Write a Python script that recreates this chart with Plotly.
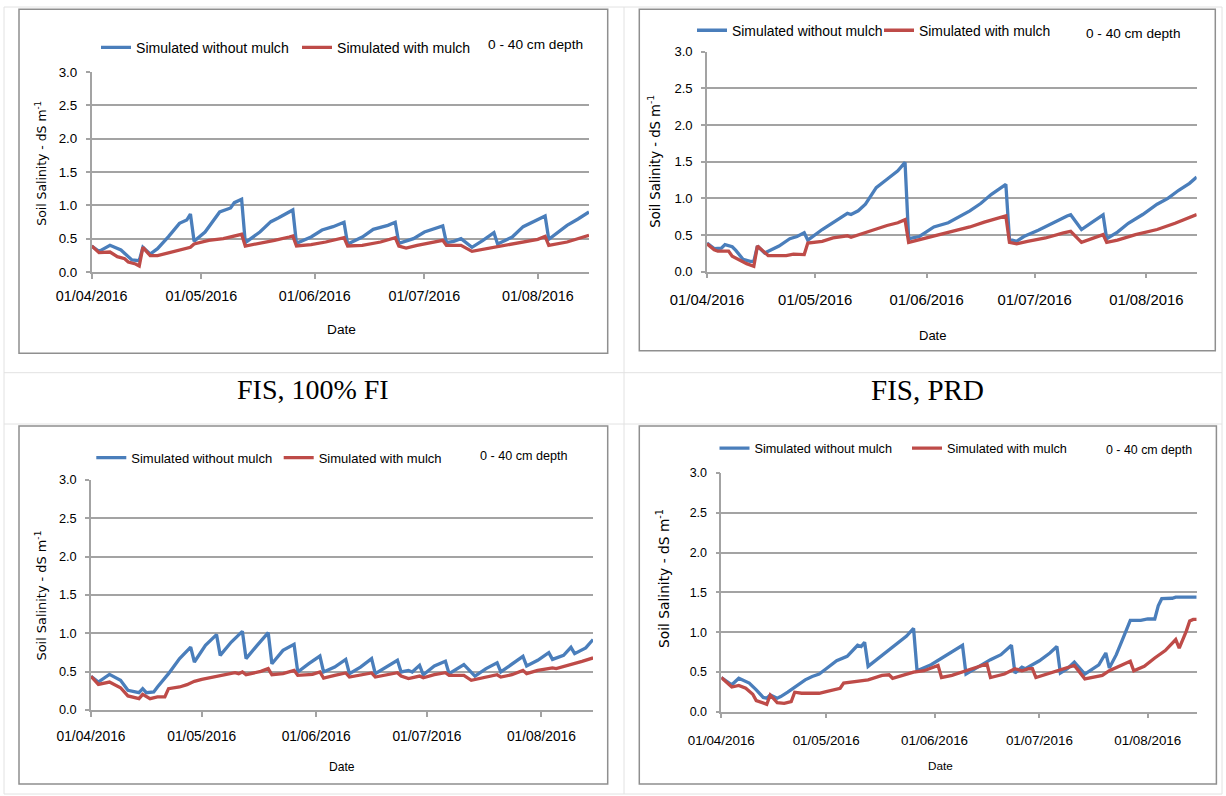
import pandas as pd
import plotly.graph_objects as go

W, H = 1226, 796
START = "2016-04-01"
END = "2016-08-15"
MONTH_TICKS = ["2016-04-01", "2016-05-01", "2016-06-01", "2016-07-01", "2016-08-01"]
MONTH_LABELS = ["01/04/2016", "01/05/2016", "01/06/2016", "01/07/2016", "01/08/2016"]
Y_TICKS = [0.0, 0.5, 1.0, 1.5, 2.0, 2.5, 3.0]
Y_LABELS = ["0.0", "0.5", "1.0", "1.5", "2.0", "2.5", "3.0"]
SERIES_NAMES = ["Simulated without mulch", "Simulated with mulch"]
DEPTH_LABEL = "0 - 40 cm depth"
X_TITLE = "Date"
Y_TITLE = "Soil Salinity - dS m<sup>-1</sup>"
CAPTIONS = ["FIS, 100% FI", "FIS, PRD"]

# ---- data: day offsets from 01/04/2016 and salinity values (dS/m) ----
# top-left panel
tl_nomulch_day = [0, 2, 5, 8, 11, 13, 14, 16, 18, 21, 24, 26, 27, 28, 31, 33, 35, 38, 39, 41, 42, 46, 49, 51, 55, 56, 60,
                  63, 66, 69, 70, 74, 77, 81, 83, 84, 88, 91, 94, 96, 97, 99, 101, 104, 107, 110, 111, 115, 118, 121, 124,
                  125, 130, 133, 136]
tl_nomulch_val = [0.39, 0.31, 0.40, 0.33, 0.18, 0.17, 0.37, 0.27, 0.35, 0.53, 0.73, 0.78, 0.87, 0.46, 0.60, 0.755, 0.90,
                  0.96, 1.04, 1.09, 0.44, 0.60, 0.755, 0.81, 0.93, 0.43, 0.525, 0.63, 0.68, 0.745, 0.42, 0.525, 0.64,
                  0.70, 0.745, 0.43, 0.50, 0.60, 0.65, 0.69, 0.44, 0.46, 0.50, 0.37, 0.475, 0.59, 0.42, 0.525, 0.68,
                  0.755, 0.84, 0.49, 0.70, 0.795, 0.90]
tl_mulch_day = [0, 2, 5, 7, 9, 10, 12, 13, 14, 16, 18, 22, 25, 27, 28, 32, 36, 39, 41, 42, 46, 50, 54, 55, 56, 60, 64, 69,
                70, 74, 79, 83, 84, 86, 89, 95, 96, 97, 101, 104, 108, 112, 118, 122, 124, 125, 130, 136]
tl_mulch_val = [0.39, 0.29, 0.30, 0.23, 0.20, 0.15, 0.12, 0.09, 0.37, 0.245, 0.245, 0.30, 0.34, 0.37, 0.42, 0.475, 0.50,
                0.54, 0.565, 0.39, 0.43, 0.475, 0.525, 0.54, 0.39, 0.41, 0.45, 0.515, 0.39, 0.40, 0.45, 0.515, 0.39,
                0.36, 0.40, 0.46, 0.475, 0.40, 0.40, 0.31, 0.35, 0.39, 0.44, 0.49, 0.535, 0.40, 0.45, 0.55]

# top-right panel
tr_nomulch_day = [0, 2, 4, 5, 7, 8, 10, 12, 13, 14, 16, 20, 23, 25, 27, 28, 32, 35, 39, 40, 42, 44, 46, 47, 50, 53, 55,
                  56, 59, 61, 63, 67, 70, 73, 76, 79, 83, 84, 86, 88, 92, 97, 100, 101, 104, 107, 110, 111, 114, 117,
                  121, 125, 128, 131, 134, 136]
tr_nomulch_val = [0.39, 0.315, 0.32, 0.37, 0.34, 0.29, 0.17, 0.14, 0.14, 0.35, 0.255, 0.35, 0.45, 0.48, 0.53, 0.43,
                  0.575, 0.667, 0.795, 0.78, 0.83, 0.92, 1.08, 1.146, 1.26, 1.375, 1.49, 0.45, 0.48, 0.55, 0.61, 0.667,
                  0.75, 0.83, 0.93, 1.055, 1.19, 0.44, 0.415, 0.48, 0.566, 0.69, 0.76, 0.776, 0.575, 0.676, 0.776, 0.45,
                  0.54, 0.66, 0.78, 0.92, 1.0, 1.11, 1.205, 1.29]
tr_mulch_day = [0, 2, 3, 6, 7, 9, 11, 13, 14, 17, 22, 24, 27, 28, 32, 35, 39, 40, 43, 47, 50, 53, 55, 56, 60, 63, 69, 73,
                77, 83, 84, 86, 89, 94, 99, 101, 104, 107, 110, 111, 114, 119, 125, 130, 136]
tr_mulch_val = [0.38, 0.30, 0.28, 0.28, 0.21, 0.155, 0.11, 0.075, 0.35, 0.22, 0.22, 0.24, 0.233, 0.39, 0.415, 0.46, 0.49,
                0.47, 0.52, 0.585, 0.63, 0.667, 0.71, 0.40, 0.45, 0.49, 0.566, 0.61, 0.676, 0.76, 0.40, 0.38, 0.415,
                0.46, 0.53, 0.55, 0.40, 0.45, 0.505, 0.40, 0.43, 0.505, 0.575, 0.66, 0.78]

# bottom-left panel
bl_nomulch_day = [0, 2, 5, 8, 10, 13, 14, 15, 17, 18, 21, 24, 27, 28, 31, 34, 35, 38, 41, 42, 45, 48, 49, 52, 55, 56, 59,
                  62, 63, 66, 69, 70, 73, 76, 77, 80, 83, 84, 86, 87, 89, 90, 93, 96, 97, 101, 104, 107, 110, 111, 114,
                  117, 118, 121, 124, 125, 128, 130, 131, 134, 136]
bl_nomulch_val = [0.44, 0.365, 0.465, 0.387, 0.257, 0.226, 0.278, 0.226, 0.235, 0.30, 0.474, 0.67, 0.82, 0.626, 0.843,
                  0.983, 0.713, 0.887, 1.026, 0.67, 0.843, 1.01, 0.604, 0.778, 0.857, 0.496, 0.604, 0.704, 0.496, 0.56,
                  0.66, 0.474, 0.56, 0.67, 0.474, 0.56, 0.648, 0.496, 0.517, 0.496, 0.583, 0.46, 0.574, 0.635, 0.474,
                  0.591, 0.443, 0.54, 0.617, 0.496, 0.604, 0.70, 0.574, 0.648, 0.748, 0.66, 0.713, 0.817, 0.735, 0.81,
                  0.92]
bl_mulch_day = [0, 2, 5, 8, 10, 13, 14, 16, 18, 20, 21, 24, 26, 28, 30, 33, 37, 39, 40, 41, 42, 46, 48, 49, 52, 55, 56,
                60, 62, 63, 66, 69, 70, 73, 76, 77, 80, 83, 84, 86, 89, 90, 93, 96, 97, 101, 103, 107, 110, 111, 114,
                117, 118, 121, 125, 126, 130, 133, 136]
bl_mulch_val = [0.44, 0.335, 0.365, 0.29, 0.183, 0.148, 0.204, 0.148, 0.17, 0.17, 0.278, 0.30, 0.33, 0.374, 0.40, 0.43,
                0.465, 0.487, 0.474, 0.496, 0.46, 0.504, 0.54, 0.46, 0.474, 0.517, 0.452, 0.465, 0.496, 0.417, 0.452,
                0.483, 0.43, 0.46, 0.483, 0.43, 0.46, 0.487, 0.443, 0.409, 0.443, 0.42, 0.46, 0.487, 0.452, 0.452,
                0.387, 0.43, 0.46, 0.43, 0.46, 0.517, 0.474, 0.517, 0.548, 0.54, 0.59, 0.635, 0.68]

# bottom-right panel
br_nomulch_day = [0, 3, 5, 8, 10, 12, 13, 14, 16, 17, 19, 21, 24, 26, 28, 30, 33, 36, 38, 39, 40, 41, 42, 45, 48, 51, 53,
                  55, 56, 60, 64, 66, 69, 70, 72, 74, 77, 80, 83, 84, 86, 87, 89, 91, 94, 96, 97, 99, 101, 104, 108,
                  110, 111, 113, 115, 117, 120, 122, 124, 125, 126, 129, 130, 136]
br_nomulch_val = [0.43, 0.338, 0.42, 0.36, 0.274, 0.18, 0.17, 0.21, 0.17, 0.19, 0.245, 0.31, 0.40, 0.443, 0.473, 0.54,
                  0.64, 0.696, 0.78, 0.835, 0.82, 0.873, 0.57, 0.675, 0.78, 0.886, 0.95, 1.046, 0.515, 0.59, 0.696,
                  0.75, 0.835, 0.473, 0.527, 0.57, 0.654, 0.717, 0.835, 0.485, 0.56, 0.54, 0.59, 0.64, 0.738, 0.82,
                  0.485, 0.54, 0.624, 0.473, 0.59, 0.738, 0.55, 0.717, 0.93, 1.148, 1.148, 1.165, 1.165, 1.33, 1.42,
                  1.426, 1.44, 1.44]
br_mulch_day = [0, 3, 5, 7, 9, 10, 13, 14, 16, 18, 20, 21, 23, 28, 30, 34, 35, 38, 42, 46, 48, 49, 51, 55, 58, 62, 63,
                66, 70, 73, 76, 77, 81, 84, 86, 88, 89, 90, 94, 98, 101, 104, 106, 109, 111, 114, 117, 118, 121, 124,
                127, 130, 131, 133, 134, 135, 136]
br_mulch_val = [0.43, 0.31, 0.33, 0.295, 0.22, 0.14, 0.093, 0.21, 0.114, 0.105, 0.127, 0.245, 0.232, 0.232, 0.253,
                0.295, 0.36, 0.38, 0.40, 0.456, 0.464, 0.42, 0.443, 0.498, 0.515, 0.582, 0.43, 0.456, 0.515, 0.557,
                0.60, 0.43, 0.473, 0.54, 0.515, 0.54, 0.54, 0.43, 0.485, 0.54, 0.582, 0.413, 0.43, 0.456, 0.515, 0.57,
                0.633, 0.515, 0.57, 0.675, 0.768, 0.907, 0.80, 1.01, 1.14, 1.16, 1.16]

# ---- styling / geometry (pixels on the 1226x796 page) ----
BLUE = "#4a7ebb"
RED = "#be4b48"
GRID = "#a3a3a3"
NARROW = "Liberation Sans Narrow, Arial Narrow, Liberation Sans, Arial, sans-serif"
SANS = "DejaVu Sans, Verdana, sans-serif"
SERIF = "Liberation Serif, Times New Roman, serif"

PANELS = [
    dict(series=(tl_nomulch_day, tl_nomulch_val, tl_mulch_day, tl_mulch_val),
         plot=(91.7, 589.0, 72.0, 272.0), box=(19, 607.7, 9.3, 353.3),
         leg=(136, 47.7, 201, 14.1), depth=(485.6, 45.0, 13.7), date=(341, 329, 13.7),
         ytitle=(40.7, 163, 12.4), xtick=14.35, ytick=13.4, xstand=5),
    dict(series=(tr_nomulch_day, tr_nomulch_val, tr_mulch_day, tr_mulch_val),
         plot=(707.0, 1196.7, 51.7, 271.7), box=(639.3, 1215.3, 9.3, 350.7),
         leg=(732, 30.7, 187, 13.9), depth=(1083.9, 33.3, 13.6), date=(932.3, 335, 13.0),
         ytitle=(654, 161.7, 13.2), xtick=14.85, ytick=13.1, xstand=9),
    dict(series=(bl_nomulch_day, bl_nomulch_val, bl_mulch_day, bl_mulch_val),
         plot=(91.0, 593.1, 480.0, 710.0), box=(19, 607.7, 426, 784),
         leg=(131.3, 457.7, 187.4, 13.0), depth=(478.4, 456, 12.6), date=(342, 767, 12.1),
         ytitle=(40.7, 595.8, 12.9), xtick=13.8, ytick=12.8, xstand=8),
    dict(series=(br_nomulch_day, br_nomulch_val, br_mulch_day, br_mulch_val),
         plot=(721.3, 1196.7, 473.0, 711.7), box=(639.3, 1216.4, 426, 784),
         leg=(754.5, 448.3, 192.5, 12.7), depth=(1104.3, 450, 12.4), date=(940.8, 765, 11.7),
         ytitle=(663.7, 578.3, 13.8), xtick=13.4, ytick=12.5, xstand=10),
]


def px(x):
    return x / W


def py(y):
    return 1 - y / H


def to_dates(days):
    return pd.Timestamp(START) + pd.to_timedelta(days, unit="D")


fig = go.Figure()
layout = dict(width=W, height=H, margin=dict(l=0, r=0, t=0, b=0, autoexpand=False), autosize=False,
              paper_bgcolor="white", plot_bgcolor="white", showlegend=True)
annotations = []
shapes = []

# faint table lines of the page
TABLE = "#e2e2e2"
for (x0, y0, x1, y1) in [(4, 7, 1222, 7), (4, 372.7, 1222, 372.7), (4, 424, 1222, 424), (4, 794, 1222, 794),
                         (4, 7, 4, 794), (624, 7, 624, 794), (1222, 7, 1222, 794)]:
    shapes.append(dict(type="line", xref="paper", yref="paper", x0=px(x0), y0=py(y0), x1=px(x1), y1=py(y1),
                       line=dict(color=TABLE, width=1), layer="below"))

for i, p in enumerate(PANELS):
    k = "" if i == 0 else str(i + 1)
    xa, ya, lg = "x" + k, "y" + k, "legend" + k
    d1, v1, d2, v2 = p["series"]
    fig.add_trace(go.Scatter(x=to_dates(d1), y=v1, mode="lines", name=SERIES_NAMES[0],
                             line=dict(color=BLUE, width=3.3), xaxis=xa, yaxis=ya, legend=lg))
    fig.add_trace(go.Scatter(x=to_dates(d2), y=v2, mode="lines", name=SERIES_NAMES[1],
                             line=dict(color=RED, width=3.3), xaxis=xa, yaxis=ya, legend=lg))
    l, r, t, b = p["plot"]
    layout["xaxis" + k] = dict(domain=[px(l), px(r)], anchor=ya, type="date", range=[START, END],
                               tickmode="array", tickvals=MONTH_TICKS, ticktext=MONTH_LABELS,
                               ticks="outside", ticklen=5, tickcolor=GRID, tickwidth=1.5,
                               showline=True, linecolor=GRID, linewidth=1.5, showgrid=False, zeroline=False,
                               tickfont=dict(family=NARROW, size=p["xtick"], color="black"),
                               ticklabelstandoff=p["xstand"], fixedrange=True)
    layout["yaxis" + k] = dict(domain=[py(b), py(t)], anchor=xa, range=[0, 3],
                               tickmode="array", tickvals=Y_TICKS, ticktext=Y_LABELS,
                               ticks="outside", ticklen=4, tickcolor=GRID, tickwidth=1.5,
                               showline=True, linecolor=GRID, linewidth=1.5,
                               showgrid=True, gridcolor=GRID, gridwidth=1.5, zeroline=False,
                               tickfont=dict(family=NARROW, size=p["ytick"], color="black"),
                               ticklabelstandoff=6, fixedrange=True)
    lx, ly, step, fs = p["leg"]
    layout[lg] = dict(orientation="h", x=px(lx - 40), y=py(ly), xanchor="left", yanchor="middle",
                      bgcolor="rgba(0,0,0,0)", borderwidth=0, itemwidth=30, traceorder="normal",
                      entrywidth=step - 45, entrywidthmode="pixels",
                      font=dict(family=NARROW, size=fs, color="black"), itemclick=False, itemdoubleclick=False)
    bx0, bx1, by0, by1 = p["box"]
    shapes.append(dict(type="rect", xref="paper", yref="paper", x0=px(bx0), x1=px(bx1), y0=py(by1), y1=py(by0),
                       line=dict(color="#8f8f8f", width=1.5), fillcolor="rgba(0,0,0,0)", layer="below"))
    dx, dy, dfs = p["depth"]
    annotations.append(dict(text=DEPTH_LABEL, xref="paper", yref="paper", x=px(dx), y=py(dy), xanchor="left",
                            yanchor="middle", showarrow=False, font=dict(family=NARROW, size=dfs, color="black")))
    tx, ty, tfs = p["date"]
    annotations.append(dict(text=X_TITLE, xref="paper", yref="paper", x=px(tx), y=py(ty), xanchor="center",
                            yanchor="middle", showarrow=False, font=dict(family=NARROW, size=tfs, color="black")))
    yx, yy, yfs = p["ytitle"]
    annotations.append(dict(text=Y_TITLE, xref="paper", yref="paper", x=px(yx), y=py(yy), xanchor="center",
                            yanchor="middle", textangle=-90, showarrow=False,
                            font=dict(family=SANS, size=yfs, color="black")))

annotations.append(dict(text=CAPTIONS[0], xref="paper", yref="paper", x=px(313), y=py(390), xanchor="center",
                        yanchor="middle", showarrow=False, font=dict(family=SERIF, size=28, color="black")))
annotations.append(dict(text=CAPTIONS[1], xref="paper", yref="paper", x=px(927), y=py(390), xanchor="center",
                        yanchor="middle", showarrow=False, font=dict(family=SERIF, size=29, color="black")))

layout["annotations"] = annotations
layout["shapes"] = shapes
fig.update_layout(**layout)
fig.write_html("out.html")
